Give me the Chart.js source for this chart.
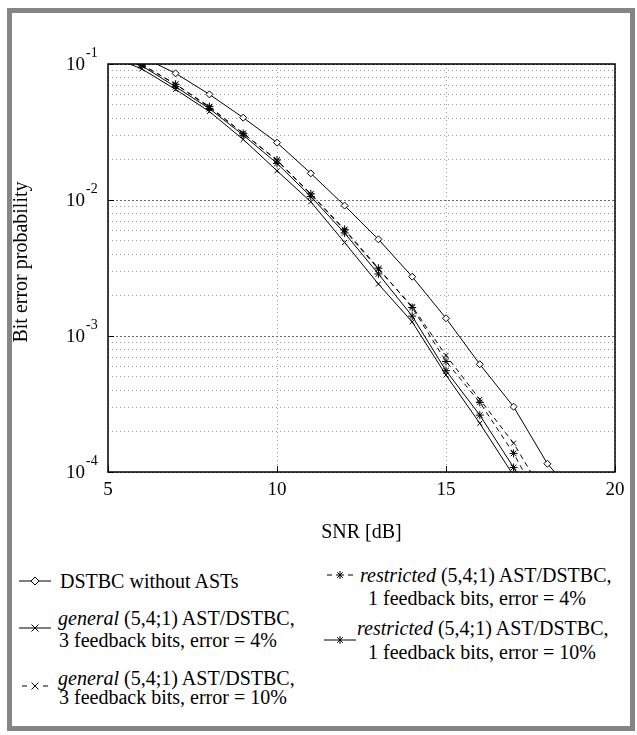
<!DOCTYPE html>
<html>
<head>
<meta charset="utf-8">
<script src="https://cdn.jsdelivr.net/npm/chart.js@4.4.0/dist/chart.umd.min.js"></script>
<style>
  html, body { margin: 0; padding: 0; background: #fff; }
  body { width: 637px; height: 735px; position: relative; overflow: hidden;
         font-family: 'Liberation Serif', 'Times New Roman', serif; }
  #frame { position: absolute; left: 7px; top: 8px; width: 618px; height: 713px;
           border: 5px solid #858585; }
  #wrap { position: absolute; left: 0; top: 0; width: 637px; height: 560px; }
  .lg { position: absolute; font-size: 20px; line-height: 22px; white-space: nowrap; color: #000; }
  .sym { position: absolute; }
</style>
</head>
<body>
<div id="frame"></div>
<div id="wrap"><canvas id="grafico-ber" width="637" height="560"></canvas></div>

<!-- leyenda, columna izquierda -->
<svg class="sym" style="left:19px;top:574px" width="32" height="14">
  <line x1="0" y1="7" x2="32" y2="7" stroke="#000"/>
  <polygon points="16,3 20,7 16,11 12,7" fill="#fff" stroke="#000"/>
</svg>
<div class="lg" style="left:60px;top:570px">DSTBC without ASTs</div>

<svg class="sym" style="left:19px;top:621px" width="32" height="14">
  <line x1="0" y1="7" x2="32" y2="7" stroke="#000"/>
  <line x1="12.5" y1="3.5" x2="19.5" y2="10.5" stroke="#000"/>
  <line x1="12.5" y1="10.5" x2="19.5" y2="3.5" stroke="#000"/>
</svg>
<div class="lg" style="left:58px;top:607px"><i>general</i> (5,4;1) AST/DSTBC,</div>
<div class="lg" style="left:59px;top:629px">3 feedback bits, error = 4%</div>

<svg class="sym" style="left:19px;top:679px" width="32" height="14">
  <line x1="3" y1="7" x2="8" y2="7" stroke="#000"/>
  <line x1="24" y1="7" x2="29" y2="7" stroke="#000"/>
  <line x1="12.5" y1="3.5" x2="19.5" y2="10.5" stroke="#000"/>
  <line x1="12.5" y1="10.5" x2="19.5" y2="3.5" stroke="#000"/>
</svg>
<div class="lg" style="left:58px;top:667px"><i>general</i> (5,4;1) AST/DSTBC,</div>
<div class="lg" style="left:59px;top:686px">3 feedback bits, error = 10%</div>

<!-- leyenda, columna derecha -->
<svg class="sym" style="left:324px;top:568px" width="32" height="14">
  <line x1="3" y1="7" x2="8" y2="7" stroke="#000"/>
  <line x1="24" y1="7" x2="29" y2="7" stroke="#000"/>
  <line x1="16" y1="3" x2="16" y2="11" stroke="#000"/>
  <line x1="12" y1="7" x2="20" y2="7" stroke="#000"/>
  <line x1="13.2" y1="4.2" x2="18.8" y2="9.8" stroke="#000"/>
  <line x1="13.2" y1="9.8" x2="18.8" y2="4.2" stroke="#000"/>
</svg>
<div class="lg" style="left:360px;top:564px"><i>restricted</i> (5,4;1) AST/DSTBC,</div>
<div class="lg" style="left:368px;top:587px">1 feedback bits, error = 4%</div>

<svg class="sym" style="left:324px;top:633px" width="32" height="14">
  <line x1="0" y1="7" x2="32" y2="7" stroke="#000"/>
  <line x1="16" y1="3" x2="16" y2="11" stroke="#000"/>
  <line x1="13.2" y1="4.2" x2="18.8" y2="9.8" stroke="#000"/>
  <line x1="13.2" y1="9.8" x2="18.8" y2="4.2" stroke="#000"/>
</svg>
<div class="lg" style="left:357px;top:617px"><i>restricted</i> (5,4;1) AST/DSTBC,</div>
<div class="lg" style="left:368px;top:641px">1 feedback bits, error = 10%</div>

<script>
// Datos (SNR en dB, probabilidad de error de bit)
const snrDb = [5, 6, 7, 8, 9, 10, 11, 12, 13, 14, 15, 16, 17, 18, 19];
const berDstbc        = [0.148, 0.113, 0.0854, 0.0598, 0.0403, 0.0264, 0.0157, 0.0091, 0.00514, 0.00273, 0.00135, 0.00062, 0.000302, 0.000115, 0.00006];
const berGeneral4     = [0.116, 0.092, 0.065, 0.0447, 0.0279, 0.0164, 0.0097, 0.00487, 0.00241, 0.00127, 0.000516, 0.000228, 0.000094, null, null];
const berGeneral10    = [0.125, 0.099, 0.071, 0.048, 0.031, 0.0195, 0.011, 0.006, 0.0031, 0.00165, 0.00072, 0.000342, 0.000163, 0.000062, null];
const berRestricted4  = [0.125, 0.099, 0.071, 0.0486, 0.0309, 0.0197, 0.0111, 0.00608, 0.00315, 0.00162, 0.00065, 0.000325, 0.000137, 0.000048, null];
const berRestricted10 = [0.123, 0.097, 0.068, 0.047, 0.030, 0.0186, 0.0106, 0.00572, 0.00286, 0.0014, 0.000556, 0.000262, 0.000108, 0.00004, null];

// Ejes
const xTickValues = [5, 10, 15, 20];
const yTickValues = [1e-1, 1e-2, 1e-3, 1e-4];
const yTickExponents = ['-1', '-2', '-3', '-4'];
const xTitle = 'SNR [dB]';
const yTitle = 'Bit error probability';

const serif = "'Liberation Serif', 'Times New Roman', serif";

function esMayor(v) {
  const l = Math.log10(v);
  return Math.abs(l - Math.round(l)) < 1e-6;
}

// Líneas de la grilla logarítmica (1..9 por década)
const yGridValues = [];
for (let e = -4; e <= -2; e++) {
  for (let m = 1; m <= 9; m++) yGridValues.push(m * Math.pow(10, e));
}
yGridValues.push(1e-1);

function serie(label, data, estilo, radio, punteada) {
  return {
    label: label,
    data: data.map((v, i) => ({ x: snrDb[i], y: v })),
    borderColor: '#000',
    borderWidth: 1,
    borderDash: punteada ? [5, 4] : [],
    pointStyle: estilo,
    pointRadius: radio,
    pointBorderColor: '#000',
    pointBackgroundColor: '#fff',
    pointBorderWidth: 1,
    tension: 0,
    fill: false
  };
}

// Marco, marcas y etiquetas del eje Y con exponentes
const marcoPlugin = {
  id: 'marco',
  afterDraw(chart) {
    const { ctx, chartArea: a, scales: { x, y } } = chart;
    ctx.save();
    ctx.strokeStyle = '#000';
    ctx.lineWidth = 1;
    ctx.beginPath();
    yTickValues.forEach(v => {
      const py = Math.round(y.getPixelForValue(v)) + 0.5;
      ctx.moveTo(a.left, py);
      ctx.lineTo(a.left + 6, py);
    });
    xTickValues.forEach(v => {
      const px = Math.round(x.getPixelForValue(v)) + 0.5;
      ctx.moveTo(px, a.bottom);
      ctx.lineTo(px, a.bottom - 6);
    });
    ctx.stroke();

    ctx.lineWidth = 1.5;
    ctx.strokeRect(a.left, a.top, a.right - a.left, a.bottom - a.top);

    ctx.fillStyle = '#000';
    ctx.textBaseline = 'middle';
    yTickValues.forEach((v, i) => {
      const py = y.getPixelForValue(v);
      ctx.font = '19px ' + serif;
      ctx.textAlign = 'right';
      ctx.fillText('10', 85, py + 1.5);
      ctx.font = '14px ' + serif;
      ctx.textAlign = 'left';
      ctx.fillText(yTickExponents[i], 86, py - 11);
    });

    ctx.translate(22, (a.top + a.bottom) / 2 - 6);
    ctx.rotate(-Math.PI / 2);
    ctx.textAlign = 'center';
    ctx.font = '20px ' + serif;
    ctx.fillText(yTitle, 0, 0);
    ctx.restore();
  }
};

const canvas = document.getElementById('grafico-ber');
new Chart(canvas, {
  type: 'line',
  data: {
    datasets: [
      serie('DSTBC without ASTs', berDstbc, 'rectRot', 3.5, false),
      serie('general (5,4;1) AST/DSTBC, 3 feedback bits, error = 4%', berGeneral4, 'crossRot', 3.5, false),
      serie('general (5,4;1) AST/DSTBC, 3 feedback bits, error = 10%', berGeneral10, 'crossRot', 3.5, true),
      serie('restricted (5,4;1) AST/DSTBC, 1 feedback bits, error = 4%', berRestricted4, 'star', 4, true),
      serie('restricted (5,4;1) AST/DSTBC, 1 feedback bits, error = 10%', berRestricted10, 'star', 4, false)
    ]
  },
  options: {
    responsive: false,
    animation: false,
    devicePixelRatio: 1,
    layout: { padding: { top: 64, left: 0, right: 22, bottom: 0 } },
    plugins: {
      legend: { display: false },
      tooltip: { enabled: false },
      title: { display: false }
    },
    scales: {
      x: {
        type: 'linear',
        min: 5,
        max: 20,
        afterBuildTicks: s => { s.ticks = xTickValues.map(v => ({ value: v })); },
        afterFit: s => { s.height = 88; },
        ticks: {
          color: '#000',
          font: { family: serif, size: 19 },
          padding: 7,
          maxRotation: 0,
          callback: v => String(v)
        },
        grid: { drawTicks: false, color: '#9a9a9a', lineWidth: 1 },
        border: { display: false, dash: [1, 3] },
        title: {
          display: true,
          text: xTitle,
          color: '#000',
          font: { family: serif, size: 20 },
          padding: { top: 0, bottom: 15 }
        }
      },
      y: {
        type: 'logarithmic',
        min: 1e-4,
        max: 1e-1,
        afterBuildTicks: s => { s.ticks = yGridValues.map(v => ({ value: v, major: esMayor(v) })); },
        afterFit: s => { s.width = 108; },
        ticks: { display: false },
        grid: {
          drawTicks: false,
          lineWidth: 1,
          color: c => (c.tick && esMayor(c.tick.value)) ? '#666666' : '#9a9a9a'
        },
        border: {
          display: false,
          dash: c => (c.tick && esMayor(c.tick.value)) ? [2, 2] : [1, 3]
        }
      }
    }
  },
  plugins: [marcoPlugin]
});
</script>
</body>
</html>
